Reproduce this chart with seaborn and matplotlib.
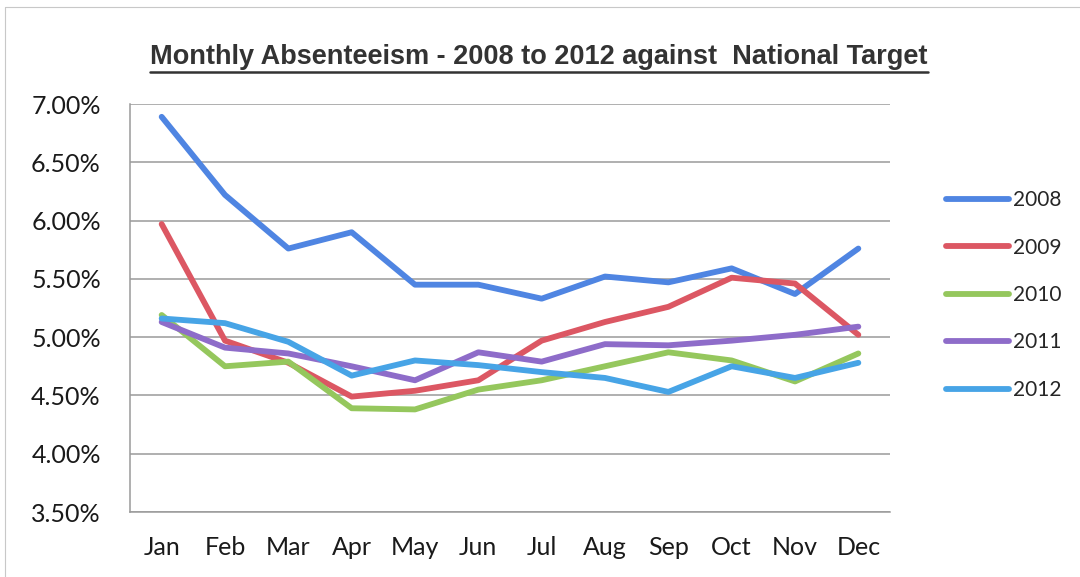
import matplotlib
matplotlib.use("Agg")
import matplotlib.pyplot as plt
from matplotlib.lines import Line2D
from matplotlib.ticker import FixedLocator, PercentFormatter
import numpy as np
import pandas as pd
import seaborn as sns

months = ["Jan", "Feb", "Mar", "Apr", "May", "Jun",
          "Jul", "Aug", "Sep", "Oct", "Nov", "Dec"]
years = ["2008", "2009", "2010", "2011", "2012"]

rate_2008 = [6.89, 6.22, 5.76, 5.90, 5.45, 5.45, 5.33, 5.52, 5.47, 5.59, 5.37, 5.76]
rate_2009 = [5.97, 4.97, 4.78, 4.49, 4.54, 4.63, 4.97, 5.13, 5.26, 5.51, 5.46, 5.02]
rate_2010 = [5.19, 4.75, 4.79, 4.39, 4.38, 4.55, 4.63, 4.75, 4.87, 4.80, 4.62, 4.86]
rate_2011 = [5.13, 4.91, 4.86, 4.75, 4.63, 4.87, 4.79, 4.94, 4.93, 4.97, 5.02, 5.09]
rate_2012 = [5.16, 5.12, 4.96, 4.67, 4.80, 4.76, 4.70, 4.65, 4.53, 4.75, 4.65, 4.78]

y_ticks = [3.5, 4.0, 4.5, 5.0, 5.5, 6.0, 6.5, 7.0]

series = dict(zip(years, [rate_2008, rate_2009, rate_2010, rate_2011, rate_2012]))
df = pd.DataFrame(
    [(y, i, m, v) for y, vals in series.items() for i, (m, v) in enumerate(zip(months, vals))],
    columns=["Year", "idx", "Month", "Rate"],
)

palette = {
    "2008": "#4f85e2",
    "2009": "#dc5763",
    "2010": "#95c75d",
    "2011": "#8e6cc9",
    "2012": "#47a4e6",
}

sns.set_theme(style="white")
plt.rcParams["font.family"] = ["Lato", "DejaVu Sans"]

fig = plt.figure(figsize=(10.8, 5.77), dpi=100)
fig.patch.set_facecolor("white")
ax = fig.add_axes([130 / 1080, 1 - 512 / 577, 760 / 1080, 408 / 577])

sns.lineplot(data=df, x="idx", y="Rate", hue="Year", palette=palette,
             linewidth=4.2, ax=ax, legend=False, sort=False)

ax.set_xlim(-0.5, 11.5)
ax.set_ylim(3.5, 7.0)
ax.set_xlabel("")
ax.set_ylabel("")

# category labels at month centres, tick marks at the boundaries
ax.set_xticks(range(len(months)))
ax.set_xticklabels(months, fontsize=18, color="#1a1a1a")
ax.xaxis.set_minor_locator(FixedLocator(np.arange(-0.5, 12, 1.0)))
ax.tick_params(axis="x", which="major", length=0, pad=17)
ax.tick_params(axis="x", which="minor", length=4.5, width=1, color="#8a8a8a", direction="out")

ax.set_yticks(y_ticks)
ax.yaxis.set_major_formatter(PercentFormatter(decimals=2))
ax.tick_params(axis="y", labelsize=18, labelcolor="#1a1a1a", length=6, width=1,
               color="#9a9a9a", pad=15)
ax.grid(axis="y", color="#9a9a9a", linewidth=1.1)
ax.set_axisbelow(True)

for side in ["top", "right"]:
    ax.spines[side].set_visible(False)
for side in ["left", "bottom"]:
    ax.spines[side].set_color("#9a9a9a")
    ax.spines[side].set_linewidth(1.1)

handles = [Line2D([0], [0], color=palette[y], linewidth=4.2) for y in years]
fig.legend(handles, years, loc="upper left",
           bbox_to_anchor=(946 / 1080, 1 - 190 / 577),
           frameon=False, fontsize=15, handlelength=3.0, handletextpad=0.2,
           labelspacing=1.32, borderpad=0, borderaxespad=0)

title = fig.text(539 / 1080, 1 - 57 / 577,
                 "Monthly Absenteeism - 2008 to 2012 against  National Target",
                 ha="center", va="center", fontsize=19.5, fontweight="bold",
                 color="#333333", family=["Liberation Sans", "DejaVu Sans"])

# underline the heading
fig.canvas.draw()
bb = title.get_window_extent().transformed(fig.transFigure.inverted())
fig.add_artist(Line2D([bb.x0, bb.x1], [bb.y0 - 0.003, bb.y0 - 0.003],
                      transform=fig.transFigure, color="#333333", linewidth=1.8))

# thin page frame
fig.add_artist(Line2D([5 / 1080, 1.0], [1 - 7 / 577, 1 - 7 / 577],
                      transform=fig.transFigure, color="#c8c8c8", linewidth=0.8))
fig.add_artist(Line2D([5 / 1080, 5 / 1080], [0.0, 1 - 7 / 577],
                      transform=fig.transFigure, color="#c8c8c8", linewidth=0.8))

fig.savefig("out.png", dpi=100, facecolor="white")
